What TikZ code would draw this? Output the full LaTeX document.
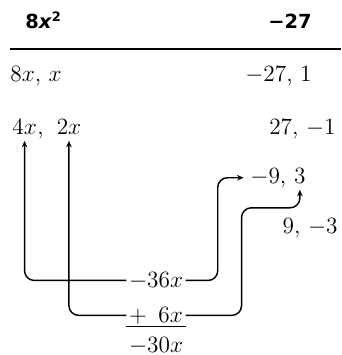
\documentclass[tikz,border=0pt]{standalone}
\usepackage{fontspec}
\newfontfamily\headfont{DejaVu Sans}
\usetikzlibrary{arrows.meta}
\begin{document}
\begin{tikzpicture}[x=0.0217cm, y=-0.0217cm, font=\Large,
  term/.style={inner sep=1.5pt},
  link/.style={-{Stealth[length=4pt,width=3.4pt]}, line width=0.9pt, rounded corners=6pt, shorten >=2.5pt}]
\useasboundingbox (0,0) rectangle (341,355);
% heading
\node[term, anchor=base west, font=\large\headfont\bfseries] (ha) at (22.6,29) {8\textit{x}\textsuperscript{2}};
\node[term, anchor=base east, font=\large\headfont\bfseries] (hc) at (314.4,29) {−27};
\draw[line width=1.3pt] (10,49) -- (341,49);
% factor pairs
\node[term, anchor=base west] (fa) at (7.6,82) {$8x$, $x$};
\node[term, anchor=base east] (fc) at (314.4,82) {$-27$, $1$};
\node[term, anchor=base west] (a4) at (9.6,134) {$4x$};
\node[inner sep=0pt, anchor=base west] (cm) at ([xshift=-1.5pt]a4.base east) {,};
\node[term, anchor=base west] (a2) at (54,134) {$2x$};
\node[term, anchor=base east] (c2) at (338.4,134) {$27$, $-1$};
\node[term, anchor=base west] (n9) at (247.6,183) {$-9$,};
\node[term, anchor=base west] (t3) at (291.4,183) {$3$};
\node[term, anchor=base east] (c4) at (340.4,233) {$9$, $-3$};
% products and their sum
\node[term, anchor=base] (m36) at (156,287) {$-36x$};
\node[term, anchor=base] (p6) at (156,322) {$+\phantom{3}6x$};
\node[term, anchor=base] (m30) at (156,352) {$-30x$};
\draw[line width=0.9pt] (p6.south west) -- (p6.south east);
% cross products
\draw[link] (m36.west) -| (a4.south);
\draw[link] (p6.west) -| (a2.south);
\draw[link] (m36.east) -- ++(32,0) |- (n9.west);
\draw[link] (p6.east) -- ++(56,0) |- ([yshift=-13.6pt]t3.south) -- (t3.south);
\end{tikzpicture}
\end{document}
